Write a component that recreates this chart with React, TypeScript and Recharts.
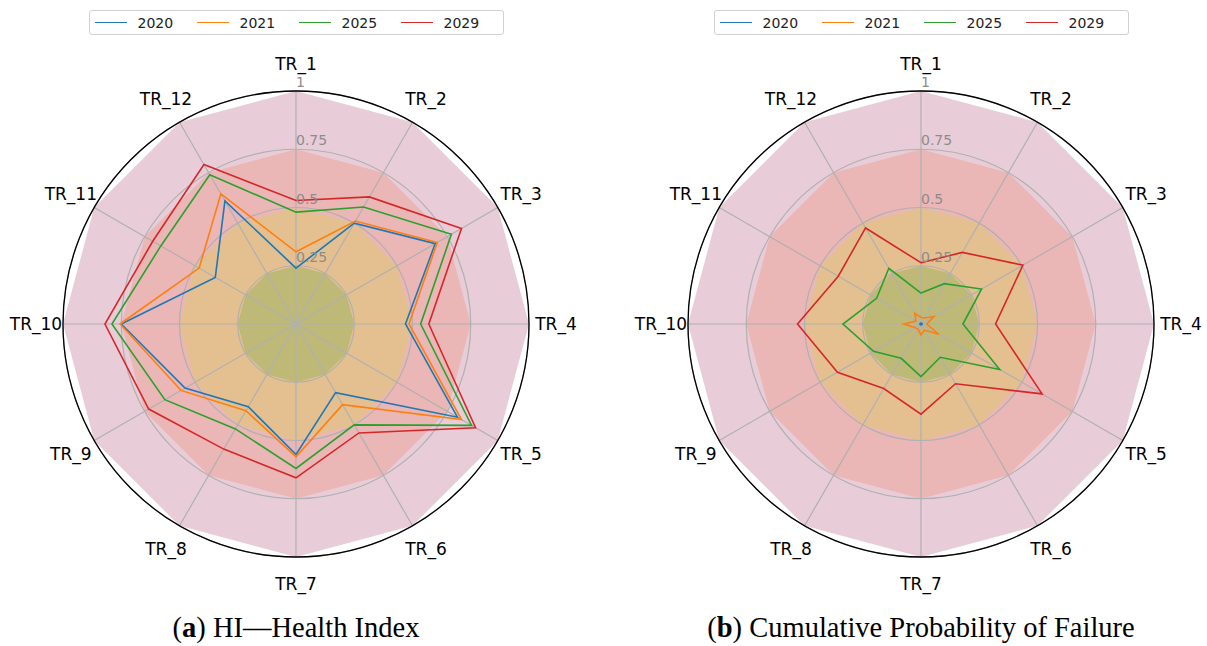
import React from "react";
import { RadarChart, Radar, PolarGrid, PolarAngleAxis, PolarRadiusAxis } from "recharts";

const categories = ["TR_1", "TR_2", "TR_3", "TR_4", "TR_5", "TR_6", "TR_7", "TR_8", "TR_9", "TR_10", "TR_11", "TR_12"];
const years = ["2020", "2021", "2025", "2029"];
const yearColors = ["#1f77b4", "#ff7f0e", "#2ca02c", "#d62728"];

// health index per year
const hi2020 = [0.24, 0.5, 0.69, 0.47, 0.8, 0.34, 0.56, 0.41, 0.55, 0.75, 0.4, 0.61];
const hi2021 = [0.31, 0.51, 0.7, 0.485, 0.82, 0.4, 0.57, 0.43, 0.57, 0.755, 0.48, 0.645];
const hi2025 = [0.48, 0.58, 0.77, 0.535, 0.87, 0.5, 0.62, 0.52, 0.65, 0.79, 0.67, 0.74];
const hi2029 = [0.53, 0.63, 0.82, 0.57, 0.89, 0.54, 0.66, 0.62, 0.73, 0.82, 0.71, 0.79];

// cumulative probability of failure per year
const cpf2020 = [0.004, 0.004, 0.005, 0.004, 0.005, 0.004, 0.004, 0.004, 0.004, 0.005, 0.004, 0.004];
const cpf2021 = [0.028, 0.03, 0.064, 0.025, 0.088, 0.03, 0.047, 0.025, 0.03, 0.074, 0.025, 0.053];
const cpf2025 = [0.133, 0.2, 0.3, 0.18, 0.39, 0.165, 0.226, 0.17, 0.235, 0.335, 0.22, 0.276];
const cpf2029 = [0.263, 0.355, 0.505, 0.32, 0.6, 0.296, 0.387, 0.32, 0.414, 0.53, 0.41, 0.476];

// background risk bands
const bandLevels = [1, 0.75, 0.5, 0.25];
const bandColors = ["#e8cdd8", "#ebb6b6", "#e4c091", "#bfb978"];
const radiusTicks = [0.25, 0.5, 0.75, 1];

const buildData = (series: number[][]) =>
  categories.map((name, i) => {
    const row: Record<string, number | string> = { name };
    years.forEach((y, k) => (row["y" + y] = series[k][i]));
    bandLevels.forEach((b, k) => (row["band" + k] = b));
    return row;
  });

const hiData = buildData([hi2020, hi2021, hi2025, hi2029]);
const cpfData = buildData([cpf2020, cpf2021, cpf2025, cpf2029]);

const FONT = "'DejaVu Sans', sans-serif";
const CY = 324;
const R = 233;

const AngleTick = (props: any) => {
  const { x, y, payload } = props;
  return (
    <text x={x} y={y} textAnchor="middle" dominantBaseline="central" fontSize={17} fontFamily={FONT} fill="#000">
      {payload.value}
    </text>
  );
};

const RadiusTick = (props: any) => {
  const { x, y, payload } = props;
  return (
    <text x={x} y={y - 4} textAnchor="start" fontSize={14} fontFamily={FONT} fill="#8c8c8c">
      {String(payload.value)}
    </text>
  );
};

const LegendBox = () => (
  <div
    style={{
      width: 415,
      height: 25,
      boxSizing: "border-box",
      border: "1px solid #d0d0d0",
      borderRadius: 3,
      background: "#fff",
      display: "flex",
      alignItems: "center",
      paddingLeft: 5,
      fontFamily: FONT,
      fontSize: 14,
      color: "#222",
    }}
  >
    {years.map((y, i) => (
      <div key={y} style={{ display: "flex", alignItems: "center", width: 108 }}>
        <div style={{ width: 32, height: 0, borderTop: `1.5px solid ${yearColors[i]}`, marginRight: 11 }} />
        <span>{y}</span>
      </div>
    ))}
  </div>
);

const Panel = ({ data, left, width, cx, label, title }: any) => (
  <div style={{ position: "absolute", left, top: 0, width, height: 646 }}>
    <div style={{ position: "absolute", left: cx - 207.5, top: 10 }}>
      <LegendBox />
    </div>
    {/* bands underneath */}
    <div style={{ position: "absolute", left: 0, top: 0 }}>
      <RadarChart width={width} height={600} data={data} cx={cx} cy={CY} outerRadius={R} margin={{ top: 0, right: 0, bottom: 0, left: 0 }}>
        <PolarAngleAxis dataKey="name" tick={false} tickLine={false} axisLine={false} />
        <PolarRadiusAxis domain={[0, 1]} tick={false} axisLine={false} tickLine={false} />
        {bandLevels.map((b, k) => (
          <Radar
            key={"band" + k}
            dataKey={"band" + k}
            stroke="none"
            fill={bandColors[k]}
            fillOpacity={1}
            dot={false}
            legendType="none"
            isAnimationActive={false}
          />
        ))}
      </RadarChart>
    </div>
    {/* grid, axes and series on top */}
    <div style={{ position: "absolute", left: 0, top: 0 }}>
      <RadarChart width={width} height={600} data={data} cx={cx} cy={CY} outerRadius={R} margin={{ top: 0, right: 0, bottom: 0, left: 0 }}>
        <PolarGrid gridType="circle" stroke="#b0b0b0" strokeWidth={1.2} />
        <PolarAngleAxis
          dataKey="name"
          tick={<AngleTick />}
          tickLine={false}
          tickSize={27}
          axisLineType="circle"
          axisLine={{ stroke: "#000", strokeWidth: 1.3 }}
        />
        {years.map((y, i) => (
          <Radar
            key={y}
            dataKey={"y" + y}
            stroke={yearColors[i]}
            strokeWidth={1.6}
            fill="none"
            fillOpacity={0}
            dot={false}
            isAnimationActive={false}
          />
        ))}
        <PolarRadiusAxis angle={90} domain={[0, 1]} ticks={radiusTicks} axisLine={false} tickLine={false} tick={<RadiusTick />} />
      </RadarChart>
    </div>
    <div
      style={{
        position: "absolute",
        left: cx - 300,
        width: 600,
        top: 610,
        textAlign: "center",
        fontFamily: "'Liberation Serif', serif",
        fontSize: 28.5,
        lineHeight: "36px",
        color: "#000",
      }}
    >
      (<b>{label}</b>) {title}
    </div>
  </div>
);

export default function App() {
  return (
    <div style={{ position: "absolute", left: 0, top: 0, width: 1207, height: 646, background: "#fff", overflow: "hidden" }}>
      <Panel data={hiData} left={0} width={600} cx={296} label="a" title="HI—Health Index" />
      <Panel data={cpfData} left={600} width={607} cx={321} label="b" title="Cumulative Probability of Failure" />
    </div>
  );
}
